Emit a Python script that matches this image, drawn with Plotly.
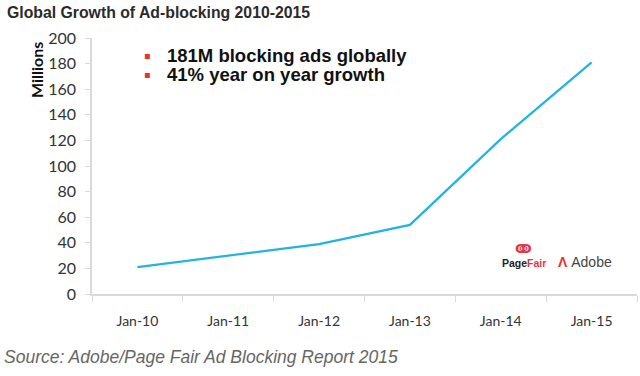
import plotly.graph_objects as go

categories = ["Jan-10", "Jan-11", "Jan-12", "Jan-13", "Jan-14", "Jan-15"]
users_millions = [21, 30, 39, 54, 121, 181]
y_ticks = [0, 20, 40, 60, 80, 100, 120, 140, 160, 180, 200]
bullets = ["181M blocking ads globally", "41% year on year growth"]

fig = go.Figure()
fig.add_trace(go.Scatter(
    x=categories, y=users_millions, mode="lines",
    line=dict(color="#22B3E3", width=2.2), hoverinfo="x+y",
))

axis_color = "#D9D9D9"
fig.update_layout(
    width=640, height=376,
    margin=dict(l=92, r=3, t=38, b=82),
    paper_bgcolor="white", plot_bgcolor="white",
    showlegend=False,
    font=dict(family="Lato, Open Sans, sans-serif", color="#404040", size=14),
    xaxis=dict(
        type="category", range=[-0.5, 5.5], tickson="boundaries",
        ticks="outside", ticklen=6, tickcolor=axis_color,
        showline=True, linecolor=axis_color, linewidth=1.5,
        showgrid=False, zeroline=False,
        tickfont=dict(size=14, color="#333333", family="Lato, sans-serif"),
        ticklabelstandoff=13,
    ),
    yaxis=dict(
        range=[0, 200], tickvals=y_ticks,
        ticks="outside", ticklen=5, tickcolor=axis_color,
        showline=True, linecolor=axis_color, linewidth=1.5,
        showgrid=False, zeroline=False,
        tickfont=dict(size=16, color="#333333", family="Lato, sans-serif"),
        ticklabelstandoff=6,
    ),
)

# Title
fig.add_annotation(
    xref="paper", yref="paper", x=-87/545, y=1 + 26/256,
    xanchor="left", yanchor="middle", showarrow=False,
    text="<b>Global Growth of Ad-blocking 2010-2015</b>",
    font=dict(family="Liberation Sans, Arial, sans-serif", size=15.8, color="#2B2B2B"),
)

# Y axis title
fig.add_annotation(
    xref="paper", yref="paper", x=-56/545, y=(294-70)/256,
    xanchor="center", yanchor="middle", showarrow=False, textangle=-90,
    text="<b>Millions</b>",
    font=dict(family="Lato, sans-serif", size=16, color="#111111"),
)

# Bullets
for i, t in enumerate(bullets):
    ypix = 55 + i * 19
    fig.add_annotation(
        xref="paper", yref="paper", x=(147-92)/545, y=(294-ypix)/256,
        xanchor="center", yanchor="middle", showarrow=False,
        text="▪", font=dict(family="DejaVu Sans", size=10, color="#E8322E"),
    )
    fig.add_annotation(
        xref="paper", yref="paper", x=(165-92)/545, y=(294-ypix)/256,
        xanchor="left", yanchor="middle", showarrow=False,
        text="<b>" + t + "</b>",
        font=dict(family="Liberation Sans, Arial, sans-serif", size=18.5, color="#111111"),
    )

# Logos (as text)
fig.add_annotation(
    xref="paper", yref="paper", x=(523-92)/545, y=(294-248)/256,
    xanchor="center", yanchor="middle", showarrow=False,
    text="<b>ↂ</b>", font=dict(family="DejaVu Sans", size=13, color="#E0344B"),
)
fig.add_annotation(
    xref="paper", yref="paper", x=(524-92)/545, y=(294-263)/256,
    xanchor="center", yanchor="middle", showarrow=False,
    text="<b>Page<span style='color:#E0344B'>Fair</span></b>",
    font=dict(family="Liberation Sans, Arial, sans-serif", size=10.5, color="#222222"),
)
fig.add_annotation(
    xref="paper", yref="paper", x=(556-92)/545, y=(294-262)/256,
    xanchor="left", yanchor="middle", showarrow=False,
    text="<span style='color:#E8322E'><b>Λ</b></span> Adobe",
    font=dict(family="Liberation Sans, Arial, sans-serif", size=14, color="#444444"),
)

# Source
fig.add_annotation(
    xref="paper", yref="paper", x=-90/545, y=(294-357)/256,
    xanchor="left", yanchor="middle", showarrow=False,
    text="<i>Source: Adobe/Page Fair Ad Blocking Report 2015</i>",
    font=dict(family="Liberation Sans, Arial, sans-serif", size=17.5, color="#666666"),
)

fig.write_html("out.html", config={"displayModeBar": False},
               post_script="document.body.style.margin='0';")
